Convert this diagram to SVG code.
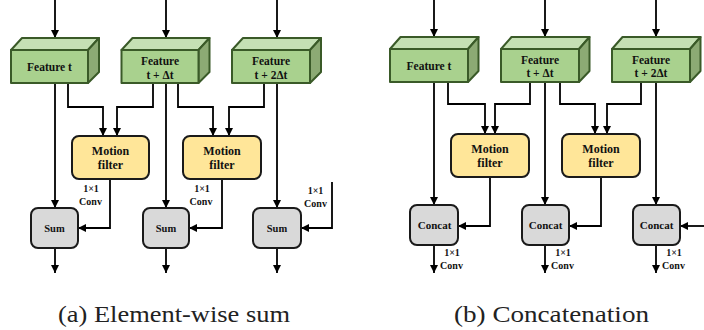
<svg xmlns="http://www.w3.org/2000/svg" width="704" height="330" viewBox="0 0 704 330">
<defs>
<marker id="ah" viewBox="0 0 10 10" refX="10" refY="5" markerWidth="4.6" markerHeight="4.6" orient="auto" markerUnits="strokeWidth">
<path d="M0,0 L10,5 L0,10 z" fill="#000"/>
</marker>
<style>
.ln{fill:none;stroke:#000;stroke-width:1.8;marker-end:url(#ah)}
.fr{fill:#a9d18e;stroke:#3a5a28;stroke-width:2;stroke-linejoin:round}
.tp{fill:#c5e0b4;stroke:#3a5a28;stroke-width:2;stroke-linejoin:round}
.sd{fill:#8caa74;stroke:#3a5a28;stroke-width:2;stroke-linejoin:round}
.mf{fill:#ffe699;stroke:#1a1a1a;stroke-width:2}
.op{fill:#d9d9d9;stroke:#1a1a1a;stroke-width:2}
text{font-family:"Liberation Serif","Times New Roman",serif;font-weight:bold;fill:#111;text-anchor:middle}
.f{font-size:11.5px}
.m{font-size:12px}
.s{font-size:10.5px}
.c{font-size:11px}
.l{font-size:10px}
.cap{font-weight:normal;font-size:23px;fill:#222}
</style>
</defs>

<g id="connectors">
<path class="ln" d="M55,0 V38"/>
<path class="ln" d="M166,0 V38"/>
<path class="ln" d="M277,0 V38"/>
<path class="ln" d="M55,83 V208"/>
<path class="ln" d="M166,83 V208"/>
<path class="ln" d="M277,83 V208"/>
<path class="ln" d="M68,83 V107 H103 V136"/>
<path class="ln" d="M153,83 V107 H117 V136"/>
<path class="ln" d="M178,83 V107 H213 V136"/>
<path class="ln" d="M264,83 V107 H229 V136"/>
<path class="ln" d="M110,179 V228 H78"/>
<path class="ln" d="M222,179 V228 H189"/>
<path class="ln" d="M332,182 V228 H301"/>
<path class="ln" d="M55,248 V273"/>
<path class="ln" d="M166,248 V273"/>
<path class="ln" d="M277,248 V273"/>
<path class="ln" d="M434,0 V37"/>
<path class="ln" d="M545,0 V37"/>
<path class="ln" d="M656,0 V37"/>
<path class="ln" d="M434,82 V205"/>
<path class="ln" d="M545,82 V205"/>
<path class="ln" d="M656,82 V205"/>
<path class="ln" d="M448,82 V104 H485 V134"/>
<path class="ln" d="M530,82 V104 H495 V134"/>
<path class="ln" d="M560,82 V104 H595 V134"/>
<path class="ln" d="M641,82 V104 H607 V134"/>
<path class="ln" d="M490,177 V226 H458"/>
<path class="ln" d="M601,177 V226 H569"/>
<path class="ln" d="M706,226 H680"/>
<path class="ln" d="M434,245 V273"/>
<path class="ln" d="M545,245 V273"/>
<path class="ln" d="M656,245 V273"/>
</g>

<g id="featL1">
<polygon class="tp" points="11,50 22,38 99,38 88,50"/>
<polygon class="sd" points="88,50 99,38 99,72 88,83"/>
<rect class="fr" x="11" y="50" width="77" height="33"/>
<text class="f" x="49.5" y="71">Feature t</text>
</g>
<g id="featL2">
<polygon class="tp" points="121.5,50 132.5,38 209.5,38 198.5,50"/>
<polygon class="sd" points="198.5,50 209.5,38 209.5,72 198.5,83"/>
<rect class="fr" x="121.5" y="50" width="77" height="33"/>
<text class="f" x="160" y="65">Feature</text>
<text class="f" x="160" y="78.5">t + Δt</text>
</g>
<g id="featL3">
<polygon class="tp" points="232,50 243,38 321,38 310,50"/>
<polygon class="sd" points="310,50 321,38 321,72 310,83"/>
<rect class="fr" x="232" y="50" width="78" height="33"/>
<text class="f" x="271" y="65">Feature</text>
<text class="f" x="271" y="78.5">t + 2Δt</text>
</g>
<g id="mfL1">
<rect class="mf" x="72" y="136" width="77" height="43" rx="7"/>
<text class="m" x="110.5" y="155">Motion</text>
<text class="m" x="110.5" y="168.5">filter</text>
</g>
<g id="mfL2">
<rect class="mf" x="183" y="136" width="78" height="43" rx="7"/>
<text class="m" x="222" y="155">Motion</text>
<text class="m" x="222" y="168.5">filter</text>
</g>
<g id="sumL1">
<rect class="op" x="31" y="208" width="47" height="40" rx="7"/>
<text class="s" x="54.5" y="231.5">Sum</text>
</g>
<g id="sumL2">
<rect class="op" x="143" y="208" width="46" height="40" rx="7"/>
<text class="s" x="166" y="231.5">Sum</text>
</g>
<g id="sumL3">
<rect class="op" x="253" y="208" width="48" height="40" rx="7"/>
<text class="s" x="277" y="231.5">Sum</text>
</g>
<g id="labelsL">
<text class="l" x="91" y="192">1×1</text>
<text class="l" x="90.5" y="205">Conv</text>
<text class="l" x="202" y="192">1×1</text>
<text class="l" x="201" y="205">Conv</text>
<text class="l" x="315.5" y="194">1×1</text>
<text class="l" x="315.5" y="207">Conv</text>
</g>

<g id="featR1">
<polygon class="tp" points="390,49 400.5,37 478.5,37 468,49"/>
<polygon class="sd" points="468,49 478.5,37 478.5,71 468,82"/>
<rect class="fr" x="390" y="49" width="78" height="33"/>
<text class="f" x="429" y="70">Feature t</text>
</g>
<g id="featR2">
<polygon class="tp" points="501,49 511.5,37 589.5,37 579,49"/>
<polygon class="sd" points="579,49 589.5,37 589.5,71 579,82"/>
<rect class="fr" x="501" y="49" width="78" height="33"/>
<text class="f" x="540" y="63.5">Feature</text>
<text class="f" x="540" y="77">t + Δt</text>
</g>
<g id="featR3">
<polygon class="tp" points="612,49 622.5,37 700.5,37 690,49"/>
<polygon class="sd" points="690,49 700.5,37 700.5,71 690,82"/>
<rect class="fr" x="612" y="49" width="78" height="33"/>
<text class="f" x="651" y="63.5">Feature</text>
<text class="f" x="651" y="77">t + 2Δt</text>
</g>
<g id="mfR1">
<rect class="mf" x="451" y="134" width="78" height="43" rx="7"/>
<text class="m" x="490" y="153">Motion</text>
<text class="m" x="490" y="166.5">filter</text>
</g>
<g id="mfR2">
<rect class="mf" x="562" y="134" width="78" height="43" rx="7"/>
<text class="m" x="601" y="153">Motion</text>
<text class="m" x="601" y="166.5">filter</text>
</g>
<g id="catR1">
<rect class="op" x="410" y="205" width="48" height="40" rx="7"/>
<text class="c" x="434.5" y="228.5">Concat</text>
</g>
<g id="catR2">
<rect class="op" x="522" y="205" width="47" height="40" rx="7"/>
<text class="c" x="545.5" y="228.5">Concat</text>
</g>
<g id="catR3">
<rect class="op" x="633" y="205" width="47" height="40" rx="7"/>
<text class="c" x="656.5" y="228.5">Concat</text>
</g>
<g id="labelsR">
<text class="l" x="452" y="256">1×1</text>
<text class="l" x="451.5" y="269">Conv</text>
<text class="l" x="563" y="256">1×1</text>
<text class="l" x="562.5" y="269">Conv</text>
<text class="l" x="674" y="256">1×1</text>
<text class="l" x="673.5" y="269">Conv</text>
</g>

<g id="captions">
<text class="cap" x="174" y="322" textLength="232" lengthAdjust="spacingAndGlyphs">(a) Element-wise sum</text>
<text class="cap" x="551.5" y="322" textLength="195" lengthAdjust="spacingAndGlyphs">(b) Concatenation</text>
</g>
</svg>
